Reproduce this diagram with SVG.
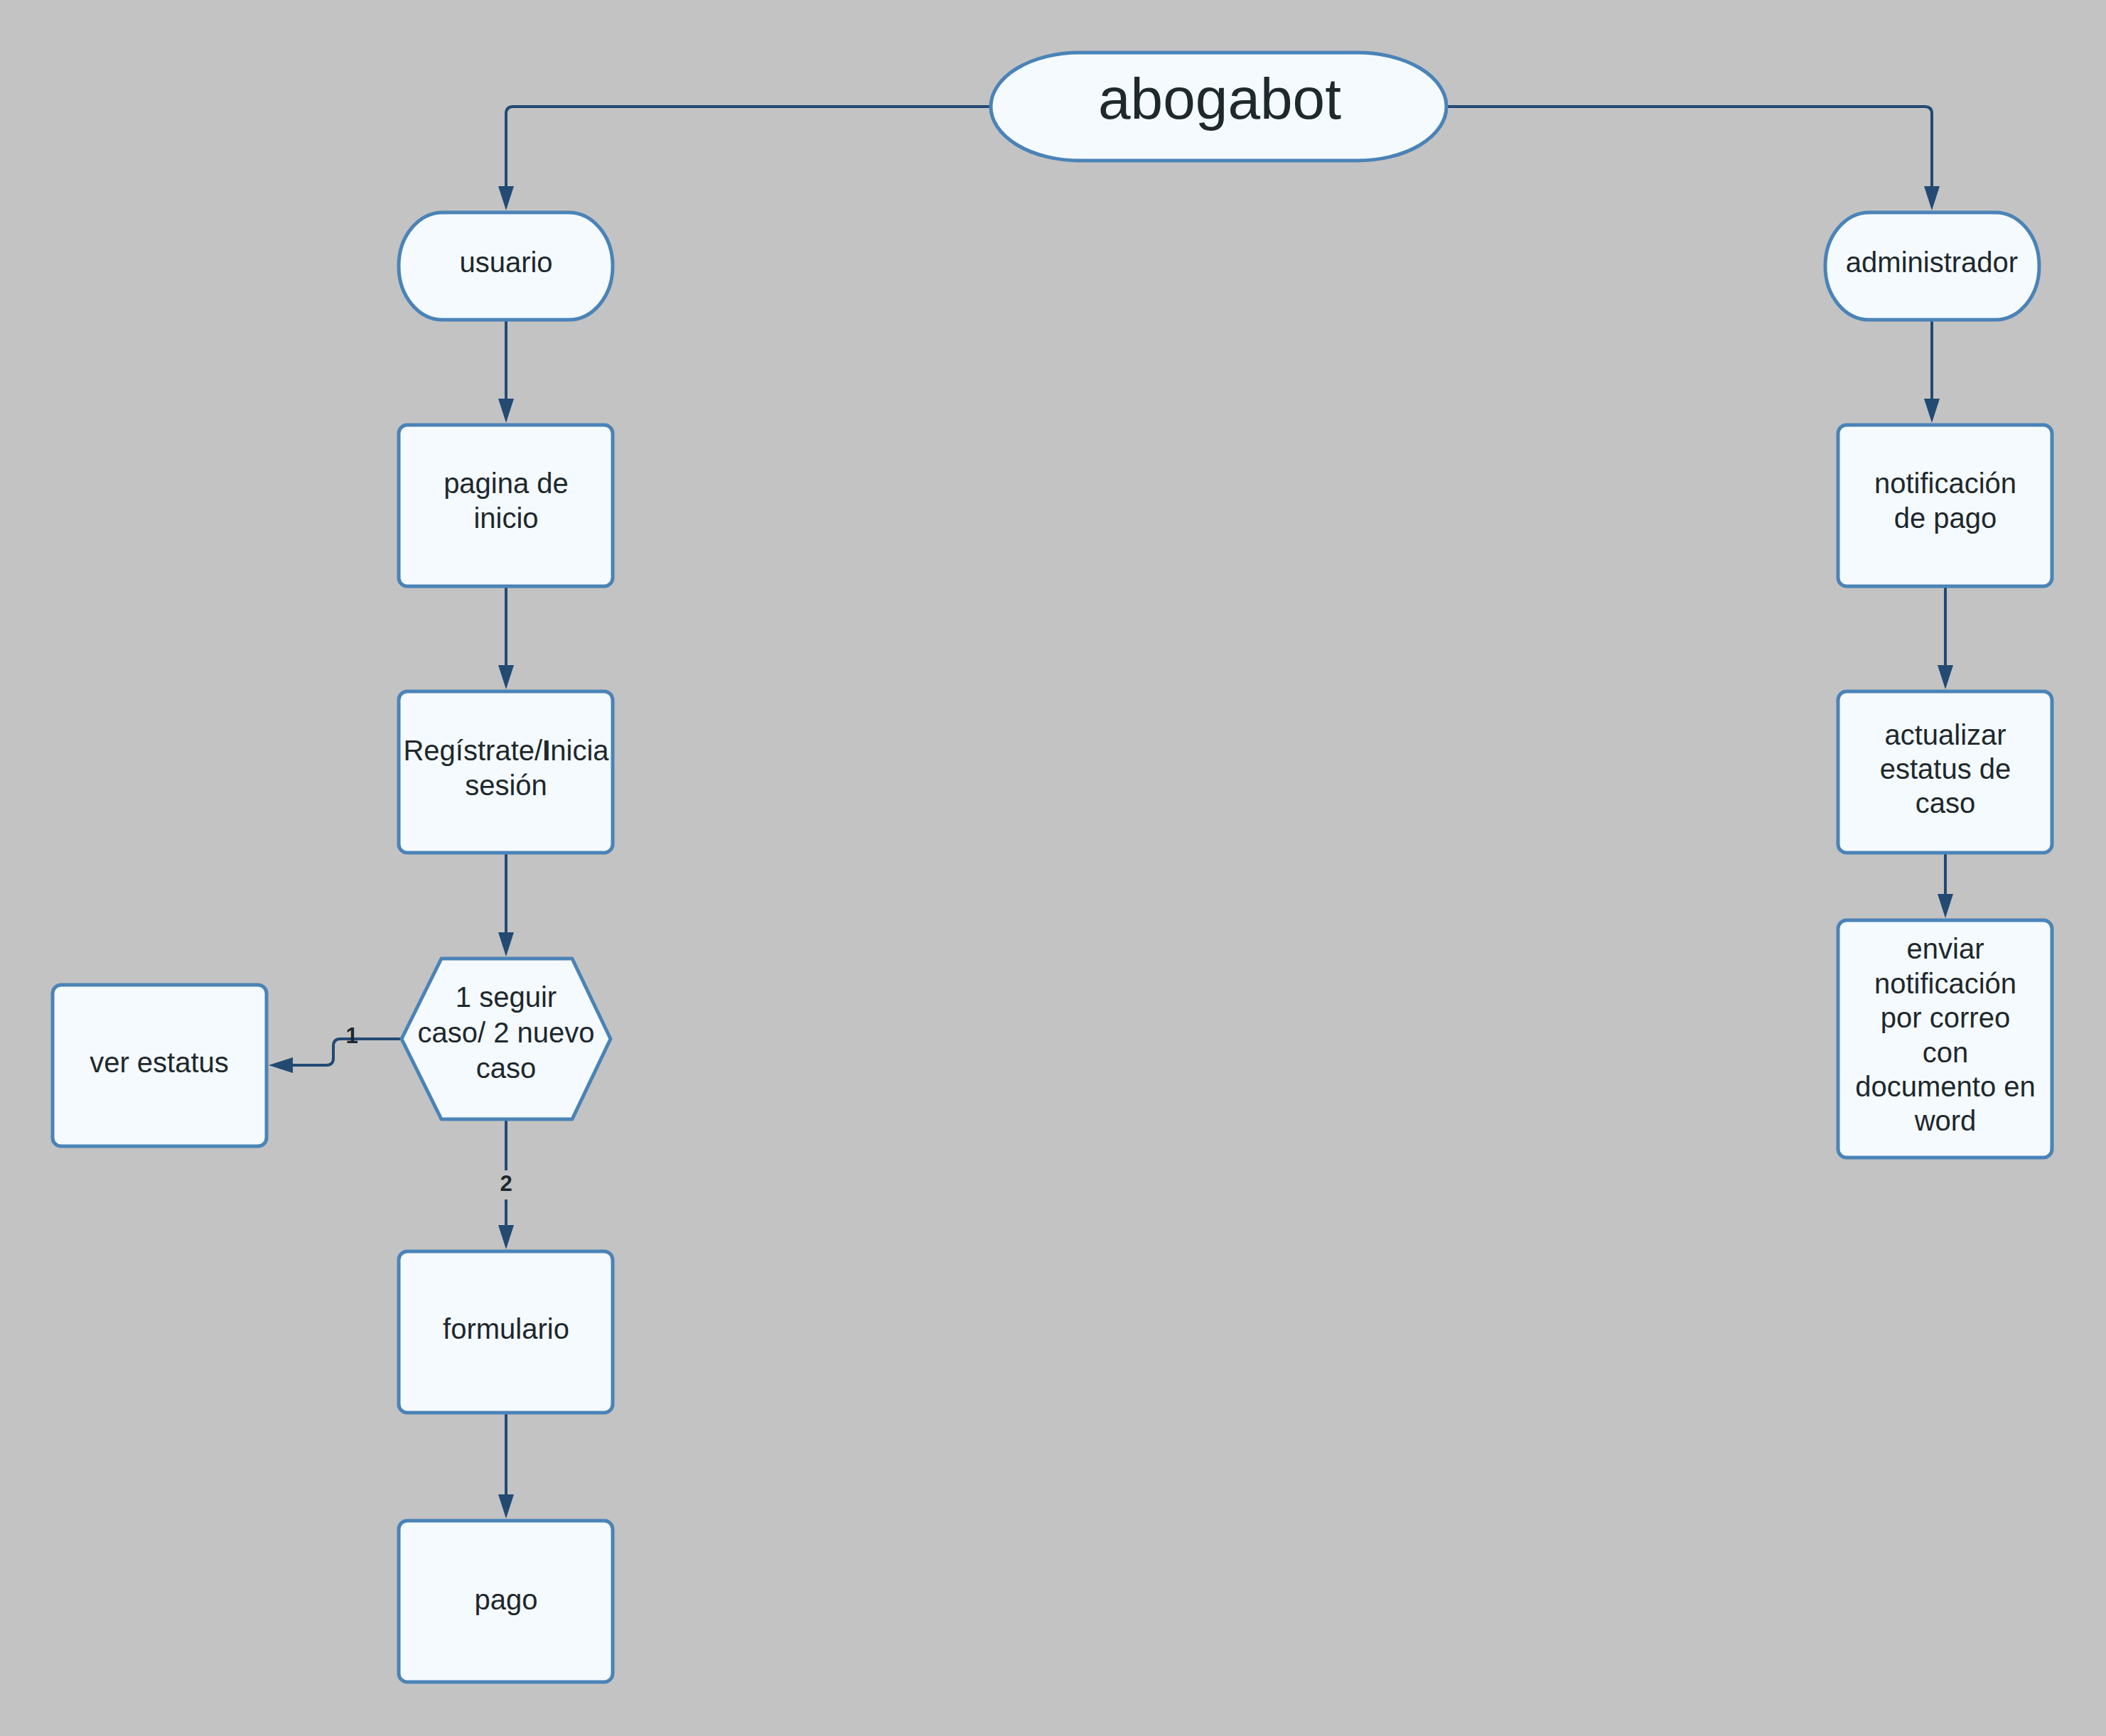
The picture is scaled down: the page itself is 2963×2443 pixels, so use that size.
<svg xmlns="http://www.w3.org/2000/svg" width="2963" height="2443" viewBox="0 0 2963 2443">
<style>
.n{fill:#f5faff;stroke:#4a83b7;stroke-width:5;stroke-linejoin:round}
.t{font-family:"Liberation Sans",Arial,sans-serif;font-size:40px;fill:#1e282d;text-anchor:middle}
.c{fill:none;stroke:#224a73;stroke-width:4}
.lb{font-family:"Liberation Sans",Arial,sans-serif;font-size:31px;font-weight:bold;fill:#1e282d;text-anchor:middle}
.bg{fill:#c3c3c3}
</style>
<defs>
<marker id="ah" markerUnits="userSpaceOnUse" markerWidth="36" markerHeight="24" refX="0" refY="11" orient="auto">
<path d="M0,0 L34,11 L0,22 Z" fill="#224a73"/>
</marker>
</defs>
<rect x="0" y="0" width="2963" height="2443" fill="#c3c3c3"/>
<g id="connectors">
<path class="c" d="M1394,150 H722 Q712,150 712,160 V262" marker-end="url(#ah)"/>
<path class="c" d="M2035,150 H2708 Q2718,150 2718,160 V262" marker-end="url(#ah)"/>
<path class="c" d="M712,451 V561" marker-end="url(#ah)"/>
<path class="c" d="M712,826 V936" marker-end="url(#ah)"/>
<path class="c" d="M712,1201 V1312" marker-end="url(#ah)"/>
<path class="c" d="M712,1576 V1724" marker-end="url(#ah)"/>
<path class="c" d="M712,1989 V2103" marker-end="url(#ah)"/>
<path class="c" d="M564,1462 H479 Q469,1462 469,1472 V1489 Q469,1499 459,1499 H412" marker-end="url(#ah)"/>
<path class="c" d="M2718,451 V561" marker-end="url(#ah)"/>
<path class="c" d="M2737,826 V936" marker-end="url(#ah)"/>
<path class="c" d="M2737,1201 V1258" marker-end="url(#ah)"/>
<rect class="bg" x="484" y="1442" width="22" height="18"/>
<text class="lb" x="495" y="1468">1</text>
<rect class="bg" x="699" y="1647" width="26" height="41"/>
<text class="lb" x="712" y="1676">2</text>
</g>
<g id="abogabot">
<rect class="n" x="1394" y="74" width="641" height="152" rx="125" ry="76"/>
<text class="t" x="1716" y="167" style="font-size:82px">abogabot</text>
</g>
<g id="usuario">
<rect class="n" x="561" y="299" width="301" height="151" rx="62" ry="75"/>
<text class="t" x="712" y="383">usuario</text>
</g>
<g id="administrador">
<rect class="n" x="2568" y="299" width="301" height="151" rx="62" ry="75"/>
<text class="t" x="2718" y="383">administrador</text>
</g>
<g id="pagina">
<rect class="n" x="561" y="598" width="301" height="227" rx="12"/>
<text class="t" x="712" y="694">pagina de</text>
<text class="t" x="712" y="743">inicio</text>
</g>
<g id="registro">
<rect class="n" x="561" y="973" width="301" height="227" rx="12"/>
<text class="t" x="712" y="1070">Regístrate/<tspan font-weight="bold">I</tspan>nicia</text>
<text class="t" x="712" y="1119">sesión</text>
</g>
<g id="decision">
<polygon class="n" points="621,1349 805,1349 859,1462 805,1575 621,1575 565,1462"/>
<text class="t" x="712" y="1417">1 seguir</text>
<text class="t" x="712" y="1467">caso/ 2 nuevo</text>
<text class="t" x="712" y="1517">caso</text>
</g>
<g id="ver-estatus">
<rect class="n" x="74" y="1386" width="301" height="227" rx="12"/>
<text class="t" x="224" y="1509">ver estatus</text>
</g>
<g id="formulario">
<rect class="n" x="561" y="1761" width="301" height="227" rx="12"/>
<text class="t" x="712" y="1884">formulario</text>
</g>
<g id="pago">
<rect class="n" x="561" y="2140" width="301" height="227" rx="12"/>
<text class="t" x="712" y="2265">pago</text>
</g>
<g id="notificacion">
<rect class="n" x="2586" y="598" width="301" height="227" rx="12"/>
<text class="t" x="2737" y="694">notificación</text>
<text class="t" x="2737" y="743">de pago</text>
</g>
<g id="actualizar">
<rect class="n" x="2586" y="973" width="301" height="227" rx="12"/>
<text class="t" x="2737" y="1048">actualizar</text>
<text class="t" x="2737" y="1096">estatus de</text>
<text class="t" x="2737" y="1144">caso</text>
</g>
<g id="enviar">
<rect class="n" x="2586" y="1295" width="301" height="334" rx="12"/>
<text class="t" x="2737" y="1349">enviar</text>
<text class="t" x="2737" y="1398">notificación</text>
<text class="t" x="2737" y="1446">por correo</text>
<text class="t" x="2737" y="1495">con</text>
<text class="t" x="2737" y="1543">documento en</text>
<text class="t" x="2737" y="1591">word</text>
</g>
</svg>
